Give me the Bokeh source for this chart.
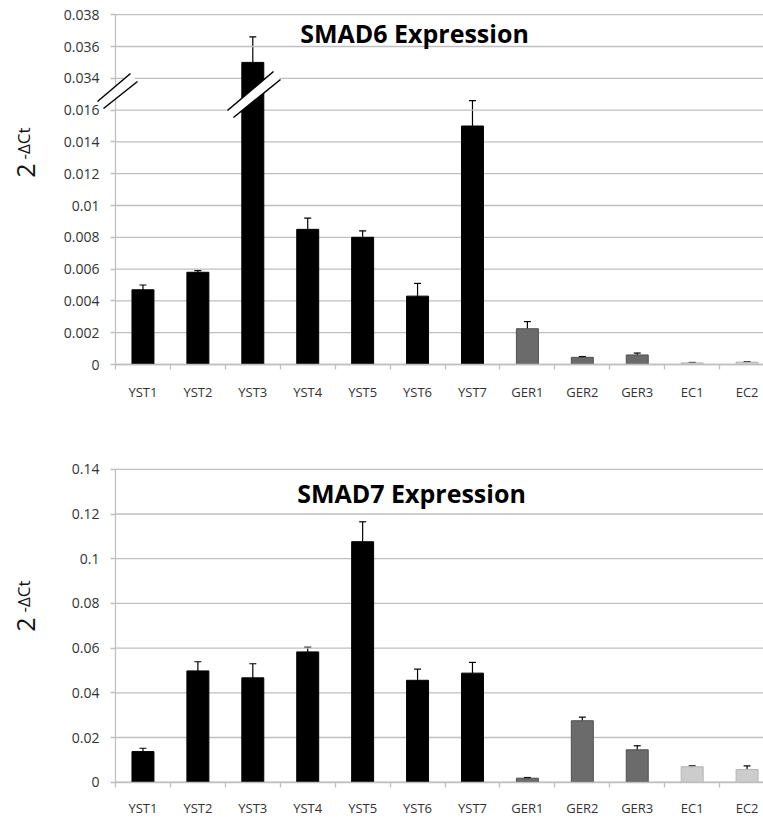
import math
from bokeh.plotting import figure
from bokeh.models import (FixedTicker, Range1d, ColumnDataSource, Whisker, TeeHead,
                          Label, PolyAnnotation, Arrow)
from bokeh.layouts import column
from bokeh.embed import file_html
from bokeh.resources import INLINE

# ---------------- data ----------------
categories = ["YST1", "YST2", "YST3", "YST4", "YST5", "YST6", "YST7",
              "GER1", "GER2", "GER3", "EC1", "EC2"]
groups = ["YST"] * 7 + ["GER"] * 3 + ["EC"] * 2

smad6_mean = [0.0047, 0.0058, 0.0350, 0.0085, 0.0080, 0.0043, 0.0150,
              0.00225, 0.00045, 0.0006, 0.0001, 0.00015]
smad6_err = [0.0003, 0.0001, 0.0016, 0.0007, 0.0004, 0.0008, 0.0016,
             0.00045, 0.00005, 0.00012, 0.00003, 0.00003]

smad7_mean = [0.0137, 0.0498, 0.0467, 0.0583, 0.1076, 0.0456, 0.0488,
              0.0018, 0.0275, 0.0145, 0.0069, 0.0057]
smad7_err = [0.0015, 0.0041, 0.0063, 0.0021, 0.0089, 0.0050, 0.0048,
             0.0003, 0.0016, 0.0018, 0.0004, 0.0016]

smad6_tick_labels = ["0", "0.002", "0.004", "0.006", "0.008", "0.01", "0.012",
                     "0.014", "0.016", "0.034", "0.036", "0.038"]
smad7_tick_labels = ["0", "0.02", "0.04", "0.06", "0.08", "0.1", "0.12", "0.14"]

titles = ["SMAD6 Expression", "SMAD7 Expression"]

# axis break for SMAD6: values above BREAK_HI are drawn just above BREAK_LO
BREAK_LO, BREAK_HI = 0.016, 0.034
STEP6 = 0.002
STEP7 = 0.02


def disp(v):
    return v if v <= 0.025 else v - (BREAK_HI - BREAK_LO) + STEP6


# ---------------- geometry / styling ----------------
FONT = "Open Sans"
GRID = "#bfbfbf"
TXT = "#333333"
FILL = {"YST": "#000000", "GER": "#6b6b6b", "EC": "#cccccc"}
EDGE = {"YST": "#000000", "GER": "#505050", "EC": "#b5b5b5"}
W = 763
H1, H2 = 401, 417
AX0 = 115          # pixel column of the value axis
PITCH = 54.92      # pixels per category


def px_x(px):
    return (px - AX0) / PITCH - 0.5


def py_y(py):      # SMAD6 panel (page pixels -> axis units)
    return (364 - py) / 31.8 * STEP6


def py7(py):       # SMAD7 panel
    return (781.7 - py) / 44.7 * STEP7


X0, X1 = px_x(0), px_x(W)
XAXIS_LEFT = -0.5


def base_fig(height, y0, y1, ticks, labels, standoff):
    p = figure(width=W, height=height, output_backend="svg", toolbar_location=None,
               x_range=Range1d(X0, X1), y_range=Range1d(y0, y1),
               min_border_left=0, min_border_right=0,
               min_border_top=0, min_border_bottom=0)
    p.outline_line_color = None
    p.xgrid.grid_line_color = None
    p.ygrid.grid_line_color = None
    p.background_fill_color = "white"
    p.border_fill_color = "white"

    # horizontal gridlines starting at the value axis
    p.segment(x0=[XAXIS_LEFT] * len(ticks), y0=ticks, x1=[X1] * len(ticks), y1=ticks,
              line_color=GRID, line_width=1.3)

    n = len(categories)
    centers = list(range(n))
    bounds = [i - 0.5 for i in range(n + 1)]
    p.xaxis.fixed_location = 0
    p.xaxis.ticker = FixedTicker(ticks=centers, minor_ticks=bounds)
    p.xaxis.bounds = (XAXIS_LEFT, X1)
    p.xaxis.major_label_overrides = {i: c for i, c in enumerate(categories)}
    p.xaxis.major_tick_line_color = None
    p.xaxis.major_tick_out = 0
    p.xaxis.major_tick_in = 0
    p.xaxis.minor_tick_line_color = GRID
    p.xaxis.minor_tick_out = 5
    p.xaxis.minor_tick_in = 0
    p.xaxis.minor_tick_line_width = 1.3
    p.xaxis.axis_line_color = GRID
    p.xaxis.axis_line_width = 1.3
    p.xaxis.major_label_standoff = standoff
    p.xaxis.major_label_text_font = FONT
    p.xaxis.major_label_text_font_size = "13px"
    p.xaxis.major_label_text_color = TXT

    p.yaxis.fixed_location = XAXIS_LEFT
    p.yaxis.ticker = FixedTicker(ticks=ticks, minor_ticks=[])
    p.yaxis.bounds = (0, ticks[-1])
    p.yaxis.major_label_overrides = {t: l for t, l in zip(ticks, labels)}
    p.yaxis.axis_line_color = GRID
    p.yaxis.axis_line_width = 1.3
    p.yaxis.major_tick_line_color = GRID
    p.yaxis.major_tick_line_width = 1.3
    p.yaxis.major_tick_out = 5
    p.yaxis.major_tick_in = 0
    p.yaxis.major_label_standoff = 11
    p.yaxis.major_label_text_font = FONT
    p.yaxis.major_label_text_font_size = "14px"
    p.yaxis.major_label_text_color = TXT
    return p


def add_bars(p, means, errs, tfun):
    x = list(range(len(categories)))
    src = ColumnDataSource(dict(
        x=x,
        top=[tfun(m) for m in means],
        upper=[tfun(m + e) for m, e in zip(means, errs)],
        lower=[tfun(m - e) for m, e in zip(means, errs)],
        fill=[FILL[g] for g in groups],
        edge=[EDGE[g] for g in groups],
    ))
    p.vbar(x="x", top="top", width=0.4, bottom=0, source=src,
           fill_color="fill", line_color="edge", line_width=1)
    head = dict(size=7, line_color="black", line_width=1.2)
    p.add_layout(Whisker(source=src, base="x", upper="upper", lower="lower",
                         line_color="black", line_width=1.2,
                         upper_head=TeeHead(**head), lower_head=TeeHead(**head)))


def ylabel(p, y2, ysup):
    p.add_layout(Label(x=px_x(25), y=y2, text="2", angle=math.pi / 2, text_align="center",
                       text_baseline="middle", text_font=FONT, text_font_size="25px",
                       text_color="#111111"))
    p.add_layout(Label(x=px_x(23), y=ysup, text="-ΔCt", angle=math.pi / 2,
                       text_align="center", text_baseline="middle", text_font=FONT,
                       text_font_size="17px", text_color="#111111"))


def title(p, x, y, t):
    p.add_layout(Label(x=x, y=y, text=t, text_align="center", text_baseline="middle",
                       text_font=FONT, text_font_size="25px", text_font_style="bold",
                       text_color="#000000"))


# ---------------- SMAD6 ----------------
t6 = [round(i * STEP6, 4) for i in range(len(smad6_tick_labels))]
p1 = base_fig(H1, py_y(H1), py_y(0), t6, smad6_tick_labels, 13)
add_bars(p1, smad6_mean, smad6_err, disp)


def break_mark(p, a1, b1, a2, b2):
    # a1-b1 and a2-b2 : the two parallel slashes (pixel coords in the reference)
    xs = [px_x(a1[0]), px_x(b1[0]), px_x(b2[0]), px_x(a2[0])]
    ys = [py_y(a1[1]), py_y(b1[1]), py_y(b2[1]), py_y(a2[1])]
    p.add_layout(PolyAnnotation(xs=xs, ys=ys, fill_color="white", fill_alpha=1,
                                line_alpha=0))
    for a, b in ((a1, b1), (a2, b2)):
        p.add_layout(Arrow(start=None, end=None, x_start=px_x(a[0]), y_start=py_y(a[1]),
                           x_end=px_x(b[0]), y_end=py_y(b[1]),
                           line_color="black", line_width=1.5))


break_mark(p1, (97, 101), (130, 73), (103, 108), (137, 81))
break_mark(p1, (227, 110), (273, 71), (233, 117), (280, 79))

ylabel(p1, py_y(170), py_y(143))
title(p1, px_x(414), py_y(32), titles[0])

# ---------------- SMAD7 ----------------
t7 = [round(i * STEP7, 2) for i in range(len(smad7_tick_labels))]
p2 = base_fig(H2, py7(H1 + H2), py7(H1), t7, smad7_tick_labels, 12)
add_bars(p2, smad7_mean, smad7_err, lambda v: v)

ylabel(p2, py7(624), py7(596))
title(p2, px_x(411), py7(492), titles[1])

layout = column(p1, p2, spacing=0)
open("out.html", "w").write(file_html(layout, INLINE))
